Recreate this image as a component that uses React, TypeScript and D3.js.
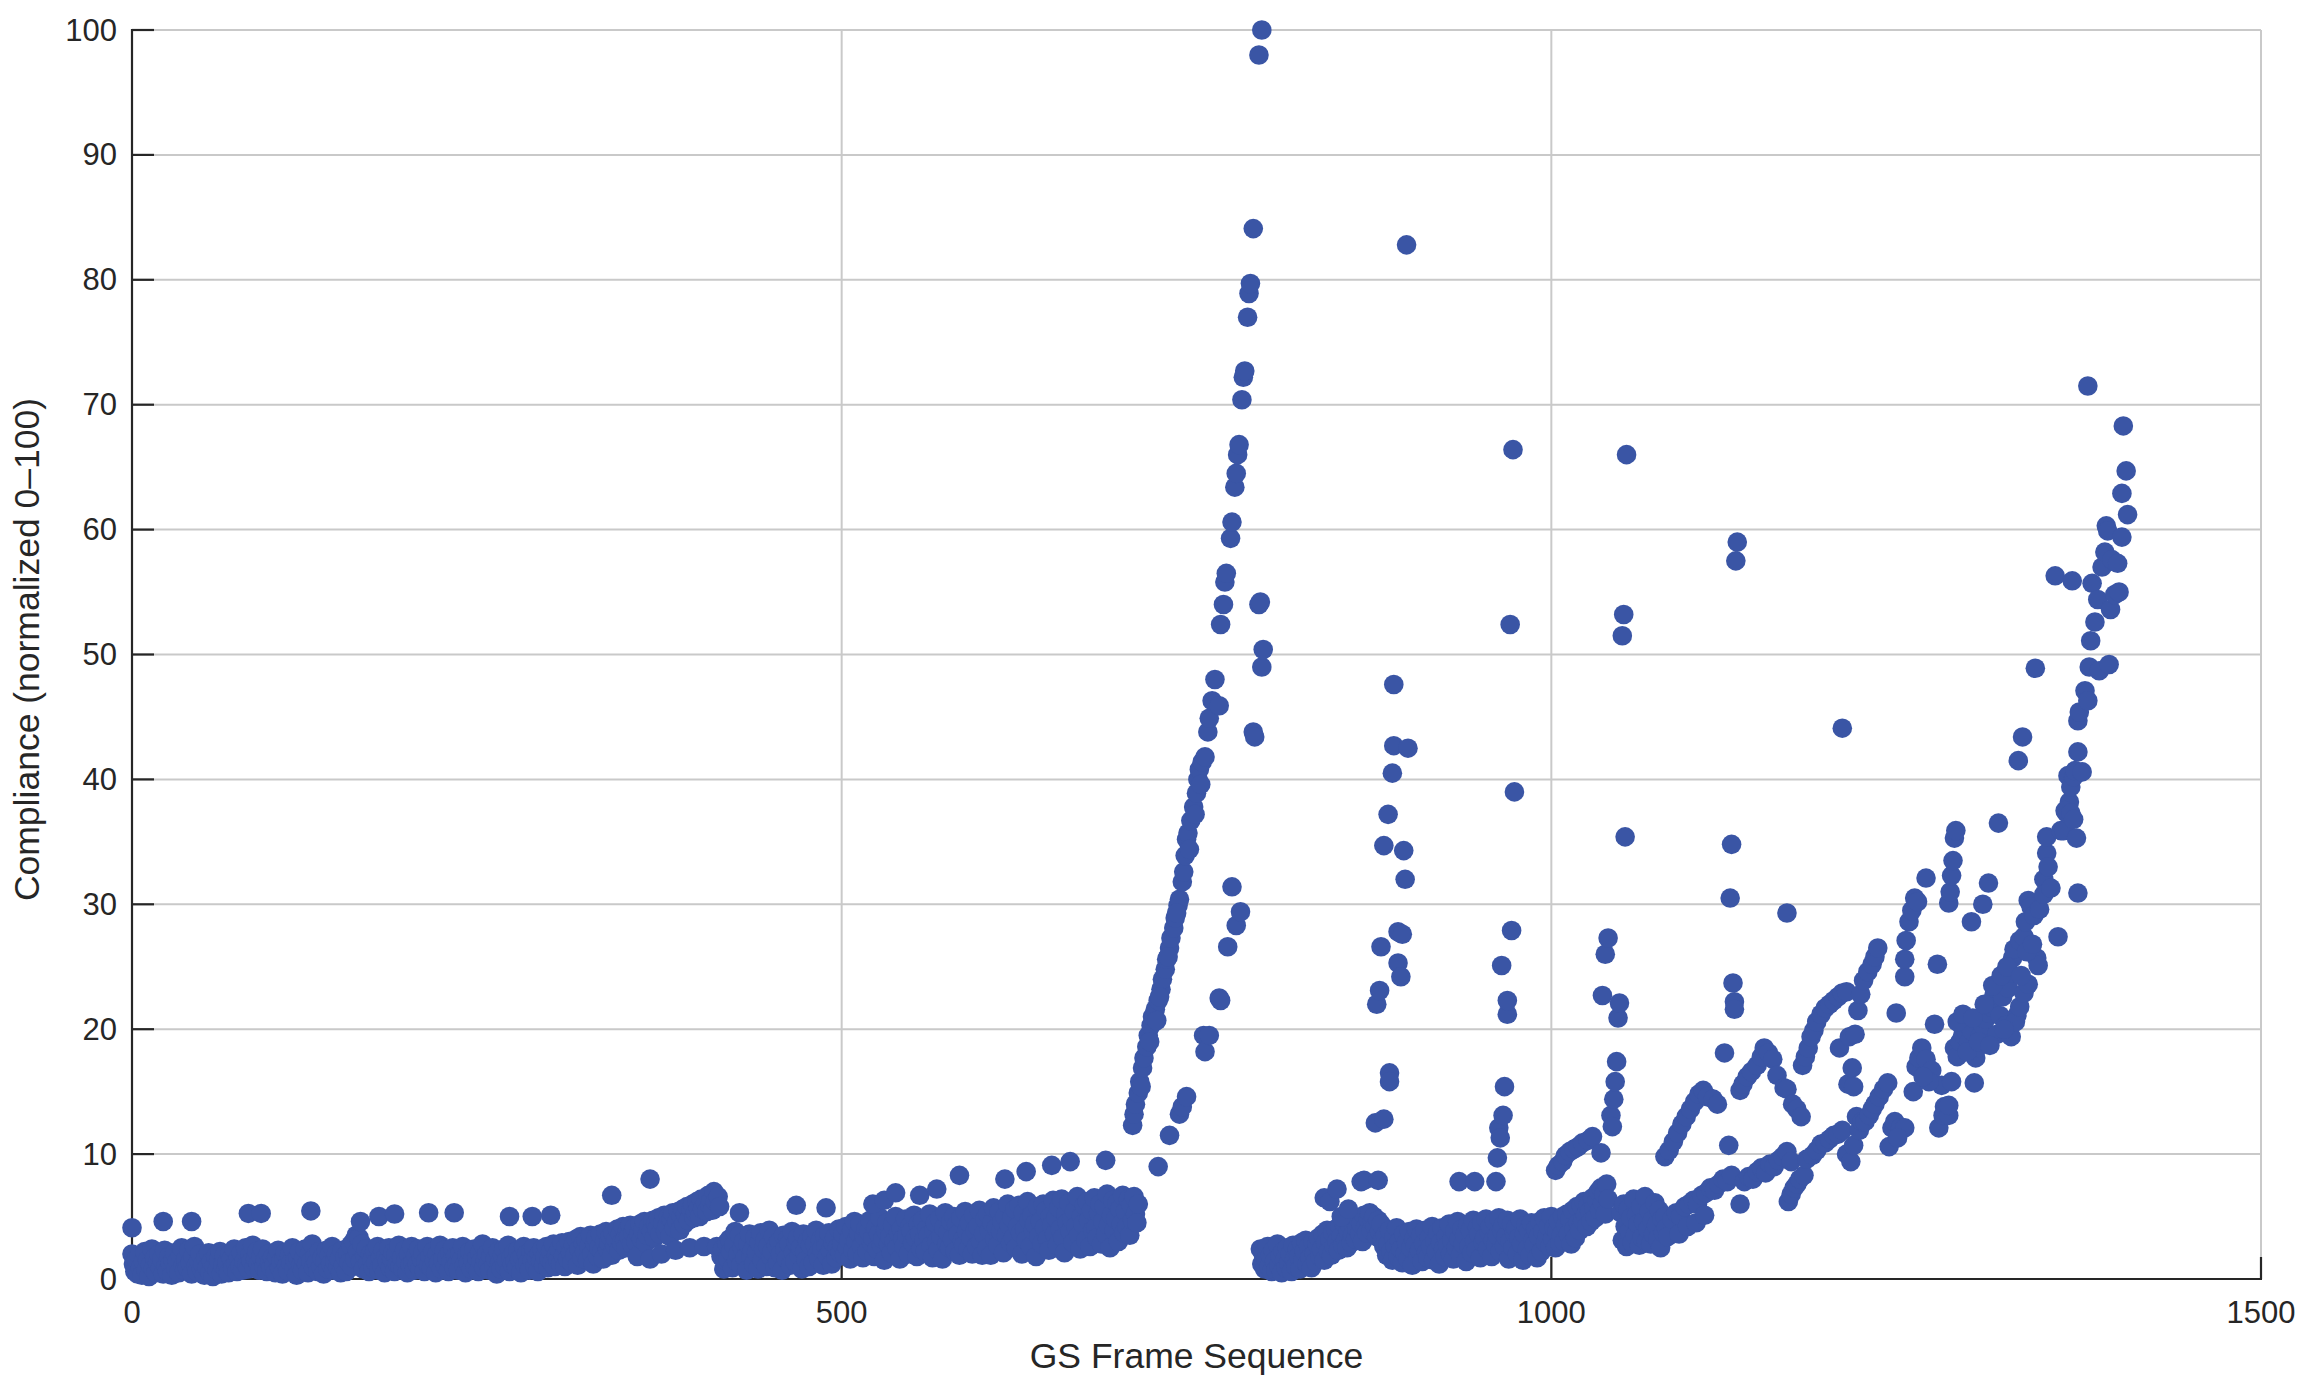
import React from "react";
import * as d3 from "d3";

const xTicks = [0, 500, 1000, 1500];
const yTicks = [0, 10, 20, 30, 40, 50, 60, 70, 80, 90, 100];
const xLabel = "GS Frame Sequence";
const yLabel = "Compliance (normalized 0–100)";

// Dense low band, one value per frame, frames 0..709
const bandAStart = 0;
const bandAValues = [
  2.0, 1.2, 0.6, 1.6, 0.4, 1.9, 0.9, 0.3, 1.4, 2.2,
  0.7, 1.5, 0.2, 1.1, 2.4, 0.8, 1.7, 0.5, 1.3, 2.0,
  0.9, 1.6, 0.4, 2.3, 1.0, 0.6, 1.8, 1.2, 0.3, 1.5,
  2.1, 0.8, 1.4, 0.5, 1.9, 2.5, 1.1, 0.7, 1.6, 0.9,
  2.3, 1.3, 0.4, 1.8, 2.6, 1.0, 0.6, 1.5, 2.0, 0.8,
  1.2, 0.3, 1.7, 0.9, 2.1, 0.5, 1.4, 0.2, 1.0, 1.8,
  0.7, 1.5, 2.2, 0.4, 1.1, 1.9, 0.8, 1.3, 0.5, 2.0,
  1.6, 0.9, 2.4, 1.2, 0.6, 1.7, 1.0, 2.1, 0.7, 1.4,
  2.5, 1.1, 0.8, 1.9, 1.4, 2.7, 0.9, 1.6, 2.2, 1.2,
  0.7, 1.8, 2.4, 1.0, 1.5, 0.6, 2.0, 1.3, 0.9, 1.7,
  1.1, 0.5, 1.8, 2.3, 0.9, 1.4, 0.4, 1.6, 2.1, 1.0,
  0.6, 1.9, 1.3, 2.5, 0.8, 1.5, 0.3, 1.7, 2.2, 1.1,
  0.7, 1.6, 2.4, 1.2, 0.5, 2.0, 1.4, 2.8, 0.9, 1.8,
  1.3, 0.6, 2.2, 1.0, 1.7, 0.4, 1.5, 2.3, 0.8, 1.9,
  1.2, 2.6, 0.7, 1.4, 2.0, 0.9, 1.6, 0.5, 2.3, 1.1,
  1.8, 0.6, 2.1, 1.3, 2.7, 1.0, 3.0, 1.6, 3.5, 2.2,
  3.3, 1.4, 2.8, 0.8, 1.9, 2.4, 1.2, 0.6, 2.0, 1.5,
  0.9, 2.2, 1.3, 2.6, 0.7, 1.7, 1.1, 2.3, 0.5, 1.8,
  1.4, 2.5, 0.9, 1.6, 2.1, 0.6, 1.9, 1.2, 2.7, 1.0,
  1.7, 0.8, 2.3, 1.4, 0.5, 2.0, 1.1, 2.6, 1.3, 0.7,
  1.9, 1.2, 2.4, 0.8, 1.6, 2.1, 0.6, 1.4, 2.6, 1.1,
  1.8, 0.9, 2.2, 1.5, 0.5, 2.0, 1.3, 2.7, 0.8, 1.6,
  2.3, 1.0, 1.7, 0.6, 2.1, 1.4, 2.5, 0.9, 1.8, 1.2,
  0.7, 2.0, 1.5, 2.6, 1.1, 0.5, 1.9, 1.3, 2.2, 0.8,
  1.6, 2.4, 1.0, 1.7, 0.6, 2.1, 1.4, 2.8, 0.9, 1.5,
  2.0, 1.2, 0.7, 1.8, 2.5, 1.1, 1.6, 0.4, 2.2, 1.3,
  0.8, 1.9, 2.4, 1.0, 1.5, 2.7, 0.6, 1.7, 1.2, 2.1,
  1.4, 0.9, 2.3, 1.6, 0.5, 1.8, 2.6, 1.1, 2.0, 1.3,
  0.7, 2.2, 1.5, 2.5, 1.0, 1.7, 0.6, 2.0, 1.4, 2.4,
  1.1, 1.8, 2.6, 0.9, 1.6, 2.2, 1.3, 2.8, 1.0, 1.9,
  1.5, 2.4, 1.2, 2.9, 1.8, 1.0, 2.6, 1.6, 3.0, 2.1,
  1.3, 2.7, 1.9, 3.2, 1.1, 2.4, 3.4, 1.7, 2.8, 2.2,
  3.1, 1.5, 2.6, 3.5, 2.0, 1.2, 2.9, 3.3, 1.8, 2.5,
  3.6, 2.2, 1.6, 3.0, 3.8, 2.4, 2.9, 3.4, 1.9, 3.7,
  2.7, 3.2, 4.0, 2.3, 3.6, 2.9, 4.2, 3.1, 2.5, 3.9,
  3.4, 4.3, 2.8, 3.7, 4.1, 3.0, 1.8, 3.6, 4.4, 3.2,
  3.9, 4.6, 2.9, 3.5, 4.2, 1.6, 3.8, 4.7, 3.3, 4.4,
  4.0, 4.9, 3.6, 2.0, 4.5, 5.1, 3.8, 4.3, 5.0, 3.4,
  4.8, 5.3, 4.1, 2.3, 4.6, 5.4, 3.9, 5.0, 5.6, 4.4,
  5.2, 5.8, 4.7, 2.5, 5.5, 6.0, 4.9, 5.3, 6.2, 5.7,
  5.0, 6.4, 5.6, 2.6, 6.1, 5.4, 6.7, 5.9, 6.3, 5.5,
  7.0, 6.2, 2.6, 6.6, 5.8, 1.8, 2.4, 0.8, 1.5, 2.9,
  1.6, 3.2, 2.2, 0.9, 2.7, 3.8, 1.4, 2.0, 3.5, 1.1,
  2.5, 3.0, 1.7, 0.7, 2.8, 3.6, 1.9, 2.3, 1.2, 3.3,
  2.1, 0.8, 2.9, 3.7, 1.5, 2.4, 3.1, 1.0, 2.6, 3.9,
  1.8, 2.2, 3.4, 0.9, 2.7, 1.3, 3.0, 2.0, 0.7, 3.5,
  2.4, 1.6, 3.2, 2.8, 1.1, 3.8, 2.1, 1.4, 2.9, 3.3,
  1.9, 2.5, 0.8, 3.6, 2.2, 1.5, 3.0, 1.0, 2.7, 3.4,
  1.3, 2.8, 3.9, 2.0, 1.6, 3.1, 2.4, 1.1, 3.5, 2.6,
  1.8, 3.7, 2.3, 1.2, 2.9, 3.3, 1.7, 2.5, 4.0, 2.1,
  2.8, 3.6, 1.9, 4.2, 2.5, 3.1, 1.6, 3.9, 2.3, 4.6,
  3.0, 2.0, 3.7, 4.4, 2.6, 1.7, 3.4, 4.0, 2.2, 3.8,
  4.7, 2.9, 3.3, 1.8, 4.1, 2.4, 3.6, 4.9, 2.7, 3.2,
  1.5, 3.9, 4.5, 2.8, 3.4, 2.1, 4.3, 3.0, 5.0, 2.5,
  3.7, 1.6, 4.0, 3.2, 2.6, 4.8, 3.5, 2.0, 4.2, 3.8,
  2.9, 5.1, 3.3, 1.8, 4.4, 3.6, 2.4, 4.7, 3.1, 2.2,
  4.0, 3.5, 5.2, 2.7, 1.7, 3.9, 4.5, 3.0, 2.3, 4.8,
  3.4, 1.6, 4.1, 5.3, 2.8, 3.7, 2.5, 4.6, 3.2, 5.0,
  2.2, 4.3, 3.6, 1.9, 4.9, 3.1, 2.7, 5.4, 3.8, 2.4,
  4.5, 3.3, 2.0, 5.1, 3.9, 2.6, 4.2, 5.5, 3.0, 1.9,
  3.6, 4.8, 2.4, 5.2, 3.9, 1.9, 4.5, 5.7, 3.2, 4.1,
  2.7, 5.4, 3.8, 4.6, 2.1, 5.0, 3.5, 6.0, 4.3, 2.9,
  4.9, 3.3, 5.6, 2.5, 4.2, 5.9, 3.7, 2.0, 5.3, 4.0,
  3.1, 6.2, 4.7, 2.6, 5.1, 3.9, 4.4, 1.8, 5.8, 3.4,
  4.6, 2.8, 6.0, 4.1, 5.5, 3.2, 2.3, 5.0, 4.3, 6.3,
  3.6, 4.9, 2.7, 5.7, 4.0, 6.4, 3.3, 2.1, 5.2, 4.5,
  6.1, 3.8, 4.8, 2.9, 5.4, 4.2, 6.6, 3.5, 2.4, 5.0,
  4.4, 5.9, 3.1, 6.2, 4.7, 2.6, 5.5, 3.9, 6.5, 4.1,
  3.3, 5.3, 6.0, 2.8, 4.6, 5.8, 3.6, 6.8, 4.3, 2.5,
  5.1, 6.3, 3.9, 4.8, 6.1, 3.0, 5.6, 4.4, 6.7, 3.7,
  5.4, 4.2, 6.4, 3.5, 5.9, 4.7, 6.6, 5.2, 4.5, 6.0,
];

// Low band after the main peak, one value per frame, frames 795..1000
const bandDStart = 795;
const bandDValues = [
  2.4, 1.2, 2.0, 0.8, 1.6, 2.6, 1.0, 1.9, 0.6, 2.3,
  1.4, 0.7, 2.8, 1.1, 1.8, 0.5, 2.2, 1.5, 0.9, 2.5,
  1.3, 2.0, 0.6, 2.7, 1.6, 1.0, 2.4, 1.8, 0.8, 2.9,
  1.5, 2.2, 3.1, 1.2, 2.6, 1.7, 0.9, 3.0, 2.0, 1.4,
  2.8, 3.3, 1.8, 2.4, 3.6, 1.5, 2.9, 3.9, 2.2, 3.2,
  1.9, 3.7, 2.6, 4.0, 3.0, 2.3, 4.2, 3.4, 2.7, 4.5,
  3.1, 2.5, 3.8, 4.3, 2.9, 3.5, 4.7, 3.2, 4.0, 4.9,
  3.6, 4.4, 3.0, 5.1, 4.1, 3.7, 4.8, 5.3, 3.9, 4.6,
  5.0, 4.2, 3.4, 4.7, 3.8, 4.4, 3.1, 2.6, 3.5, 1.9,
  2.8, 3.9, 2.2, 1.5, 3.3, 2.6, 4.1, 1.8, 3.0, 2.4,
  1.3, 3.6, 2.0, 2.9, 1.6, 3.8, 2.5, 1.1, 3.2, 2.7,
  4.0, 1.9, 2.3, 3.5, 1.4, 2.8, 3.9, 2.1, 1.7, 3.3,
  2.6, 4.2, 1.5, 3.0, 2.2, 3.7, 1.2, 2.9, 4.1, 2.4,
  1.8, 3.4, 2.7, 4.4, 2.0, 3.1, 1.6, 3.8, 2.5, 4.6,
  3.2, 1.9, 4.0, 2.8, 3.5, 1.4, 4.3, 2.6, 3.9, 2.1,
  4.7, 3.0, 2.3, 4.1, 3.6, 1.7, 4.5, 2.9, 3.3, 4.8,
  2.4, 3.8, 4.2, 1.8, 3.1, 4.6, 2.7, 3.5, 4.9, 2.2,
  3.9, 4.3, 2.6, 3.4, 4.7, 1.6, 3.0, 4.4, 2.5, 3.7,
  4.1, 2.0, 3.3, 4.8, 2.8, 1.5, 3.6, 4.3, 2.4, 3.9,
  1.9, 4.5, 3.1, 2.7, 4.0, 1.7, 3.4, 4.6, 2.2, 3.8,
  4.9, 2.9, 3.5, 4.2, 2.6, 5.0,
];

// Rising low band 1001..1040
const bandE0Start = 1001;
const bandE0Values = [
  3.2, 4.1, 2.5, 3.8, 4.6, 2.9, 3.5, 5.0, 3.0, 4.3,
  5.2, 3.6, 4.8, 2.8, 5.5, 4.0, 3.3, 5.8, 4.5, 3.9,
  5.9, 4.7, 6.2, 5.1, 4.2, 6.0, 5.4, 4.6, 6.5, 5.7,
  4.9, 6.3, 7.0, 5.5, 7.3, 6.1, 6.8, 5.2, 7.6, 6.4,
];

// Low cluster 1049..1082
const bandE2Start = 1049;
const bandE2Values = [
  5.3, 3.1, 6.0, 4.2, 2.6, 5.6, 3.8, 4.9, 2.9, 6.4,
  3.5, 5.1, 4.4, 2.7, 5.8, 3.3, 4.6, 6.6, 3.0, 4.0,
  5.4, 2.8, 4.7, 3.6, 6.1, 4.3, 3.2, 5.5, 2.5, 4.8,
  3.7, 5.0, 4.1, 3.4,
];

// Scattered upper points in the low region [frame, value]
const lowOutliers: [number, number][] = [
  [0, 4.1], [22, 4.6], [42, 4.6], [82, 5.25], [91, 5.25], [126, 5.45],
  [161, 4.6], [174, 5.0], [185, 5.2], [209, 5.3], [227, 5.3], [266, 5.0],
  [282, 5.0], [295, 5.1], [338, 6.7], [365, 8.0], [428, 5.3], [468, 5.9],
  [489, 5.7], [522, 6.0], [530, 6.3], [538, 6.9], [555, 6.7], [567, 7.2],
  [583, 8.3], [615, 8.0], [630, 8.6], [648, 9.1], [661, 9.4], [686, 9.5],
];

// Steep rise to the maximum
const riseMain: [number, number][] = [
  [705, 12.3], [706, 13.2], [707, 14.0], [709, 14.9], [710, 15.8], [712, 16.9],
  [713, 17.7], [715, 18.6], [716, 19.5], [718, 20.3], [719, 21.0], [721, 21.6],
  [722, 20.7], [723, 22.3], [725, 23.2], [726, 24.0], [728, 24.8], [729, 25.6],
  [731, 26.5], [732, 27.3], [734, 28.1], [735, 28.9], [737, 29.9], [738, 30.4],
  [740, 31.8], [741, 32.6], [742, 33.9], [743, 35.2], [744, 35.7], [746, 36.7],
  [748, 37.8], [750, 38.9], [751, 40.0], [752, 40.8], [754, 41.4], [756, 41.8],
  [758, 43.8], [759, 44.9], [761, 46.3], [763, 48.0], [766, 45.9], [767, 52.4],
  [769, 54.0], [770, 55.8], [771, 56.5], [774, 59.3], [775, 60.6], [777, 63.4],
  [778, 64.5], [779, 66.0], [780, 66.8], [782, 70.4], [783, 72.2], [784, 72.7],
  [786, 77.0], [787, 78.9], [788, 79.7], [790, 84.1], [794, 98.0], [796, 100.0],
];
const riseSecond: [number, number][] = [
  [711, 15.4], [717, 19.0], [724, 22.6], [730, 25.8], [736, 29.3], [745, 34.4],
  [749, 37.2], [753, 39.6],
];
const riseTrail: [number, number][] = [
  [723, 9.0], [731, 11.5], [738, 13.2], [740, 13.8], [743, 14.6], [755, 19.5],
  [756, 18.2], [759, 19.5], [766, 22.5], [767, 22.3], [772, 26.6], [775, 31.4],
  [778, 28.3], [781, 29.4], [790, 43.8], [791, 43.4], [794, 54.0], [795, 54.2],
  [796, 49.0], [797, 50.4],
];

// Region after the peak
const upperD: [number, number][] = [
  [840, 6.5], [844, 6.2], [849, 7.2], [852, 5.0], [857, 5.6], [866, 7.8],
  [868, 7.9], [878, 7.9], [935, 7.8], [946, 7.8],
];
const spikeD1: [number, number][] = [
  [876, 12.5], [877, 22.0], [879, 23.1], [880, 26.6], [882, 12.8], [882, 34.7],
  [885, 37.2], [886, 16.5], [886, 15.8], [888, 40.5], [889, 42.7], [889, 47.6],
  [892, 27.8], [892, 25.3], [894, 24.2], [895, 27.6], [896, 34.3], [897, 32.0],
  [898, 82.8], [899, 42.5],
];
const spikeD2: [number, number][] = [
  [961, 7.8], [962, 9.7], [963, 12.1], [964, 11.3], [965, 25.1], [966, 13.1],
  [967, 15.4], [969, 21.2], [969, 22.3], [971, 52.4], [972, 27.9], [973, 66.4],
  [974, 39.0],
];

// Region 1000..1210
const seriesE1: [number, number][] = [
  [1003, 8.7], [1005, 9.1], [1008, 9.4], [1010, 9.9], [1013, 10.2], [1016, 10.4],
  [1019, 10.6], [1022, 10.9], [1026, 11.1], [1029, 11.4], [1035, 10.1],
];
const spikeE1: [number, number][] = [
  [1036, 22.7], [1038, 26.0], [1040, 27.3], [1042, 13.1], [1043, 12.2], [1044, 14.4],
  [1045, 15.8], [1046, 17.4], [1047, 20.9], [1048, 22.1], [1050, 51.5], [1051, 53.2],
  [1052, 35.4], [1053, 66.0],
];
const seriesE3: [number, number][] = [
  [1080, 9.8], [1083, 10.3], [1086, 11.0], [1089, 11.7], [1092, 12.4], [1095, 13.0],
  [1098, 13.6], [1101, 14.2], [1104, 14.8], [1107, 15.1], [1110, 14.6], [1114, 14.4],
  [1117, 14.0],
];
const seriesE4: [number, number][] = [
  [1085, 4.8], [1088, 5.3], [1091, 5.0], [1094, 5.8], [1097, 6.0], [1100, 6.3],
  [1103, 6.0], [1106, 6.7], [1109, 6.9], [1112, 7.3], [1115, 7.1], [1118, 7.6],
  [1121, 8.0], [1124, 7.8], [1127, 8.3], [1090, 3.6], [1096, 4.2], [1102, 4.5],
  [1108, 5.1],
];
const spikeE2: [number, number][] = [
  [1122, 18.1], [1125, 10.7], [1126, 30.5], [1127, 34.8], [1128, 23.7], [1129, 22.2],
  [1129, 21.6], [1130, 57.5], [1131, 59.0], [1133, 6.0],
];
const seriesE6: [number, number][] = [
  [1133, 15.1], [1135, 15.6], [1138, 16.2], [1141, 16.6], [1145, 17.1], [1148, 17.8],
  [1150, 18.5], [1153, 18.1], [1156, 17.6], [1159, 16.3],
];
const seriesE7: [number, number][] = [
  [1136, 7.8], [1139, 8.2], [1142, 8.0], [1145, 8.6], [1148, 8.9], [1151, 8.5],
  [1154, 9.2], [1157, 9.0], [1160, 9.5], [1163, 9.8], [1166, 10.2], [1169, 9.4],
  [1167, 6.2], [1169, 6.8], [1171, 7.3], [1173, 7.6], [1175, 8.0], [1178, 8.3],
];
const seriesE8: [number, number][] = [
  [1164, 15.3], [1166, 15.2], [1166, 29.3], [1170, 14.0], [1173, 13.6], [1176, 13.0],
];
const seriesE9: [number, number][] = [
  [1177, 17.1], [1179, 17.8], [1181, 18.5], [1183, 19.4], [1185, 19.9], [1187, 20.6],
  [1190, 21.2], [1193, 21.7], [1196, 22.0], [1199, 22.3], [1202, 22.6], [1205, 22.9],
  [1208, 23.0],
];
const seriesE10: [number, number][] = [
  [1180, 9.6], [1184, 9.9], [1187, 10.3], [1190, 10.8], [1193, 10.9], [1196, 11.2],
  [1199, 11.5], [1202, 11.6], [1205, 11.9], [1208, 10.0], [1211, 9.4], [1213, 10.7],
  [1203, 18.5], [1205, 44.1], [1209, 15.6], [1210, 19.4], [1212, 16.9],
];

// Final region 1210..1406
const seriesF1: [number, number][] = [
  [1214, 19.6], [1216, 21.5], [1218, 22.8], [1220, 23.9], [1223, 24.6], [1226, 25.2],
  [1228, 25.8], [1230, 26.5],
];
const seriesF2: [number, number][] = [
  [1213, 15.4], [1215, 13.0], [1217, 11.9], [1219, 12.6], [1221, 12.6], [1224, 13.1],
  [1226, 13.6], [1228, 14.0], [1231, 14.6], [1234, 15.2], [1237, 15.7], [1240, 12.1],
  [1238, 10.6], [1242, 12.6], [1246, 12.1], [1249, 12.1], [1244, 11.3],
];
const seriesF3: [number, number][] = [
  [1243, 21.3], [1249, 24.2], [1249, 25.6], [1250, 27.1], [1252, 28.6], [1254, 29.5],
  [1256, 30.5], [1258, 30.2], [1264, 32.1],
];
const seriesF4: [number, number][] = [
  [1255, 15.0], [1257, 17.0], [1259, 17.7], [1261, 18.5], [1264, 17.6], [1268, 16.7],
  [1270, 20.4], [1272, 25.2], [1275, 15.5], [1277, 13.8], [1273, 12.1], [1276, 13.1],
  [1280, 13.1], [1266, 15.8], [1262, 16.2],
];
const seriesF5: [number, number][] = [
  [1280, 30.1], [1281, 31.0], [1282, 32.3], [1284, 35.3], [1285, 35.9], [1283, 33.5],
];
const seriesF6: [number, number][] = [
  [1280, 13.9], [1282, 15.8], [1284, 18.5], [1286, 17.8], [1288, 19.0], [1290, 19.6],
  [1292, 19.9], [1294, 18.9], [1296, 19.9], [1296, 28.6], [1298, 15.7], [1299, 17.7],
  [1300, 18.5], [1302, 19.4], [1304, 30.0], [1304, 20.3], [1306, 20.8], [1308, 31.7],
  [1308, 21.3], [1310, 21.8], [1312, 22.8], [1314, 19.6], [1315, 36.5], [1316, 21.1],
  [1318, 22.6], [1320, 23.7], [1322, 23.3], [1323, 24.5], [1325, 25.7], [1326, 26.4],
  [1328, 21.1], [1329, 41.5], [1330, 27.1], [1332, 43.4], [1333, 27.4], [1334, 28.6],
  [1336, 30.3], [1338, 29.8], [1340, 29.1], [1341, 48.9], [1342, 25.7], [1343, 25.1],
  [1344, 29.6], [1347, 32.0], [1347, 30.8], [1349, 34.1], [1350, 33.0], [1349, 35.4],
  [1352, 31.3], [1355, 56.3], [1357, 27.4], [1359, 35.9], [1361, 35.9], [1363, 37.3],
  [1364, 40.3], [1365, 38.2], [1366, 39.4], [1367, 55.9], [1368, 40.2], [1369, 40.7],
  [1370, 35.3], [1371, 30.9], [1371, 42.2], [1371, 44.7], [1372, 45.4], [1374, 40.6],
  [1376, 47.1], [1378, 46.3], [1378, 71.5], [1379, 49.0], [1380, 51.1], [1381, 55.7],
  [1383, 52.6], [1385, 54.4], [1386, 48.7], [1388, 57.0], [1390, 58.2], [1391, 60.3],
  [1392, 59.9], [1393, 49.2], [1394, 53.6], [1395, 57.6], [1397, 54.8], [1399, 57.3],
  [1400, 55.0], [1402, 62.9], [1402, 59.4], [1403, 68.3], [1405, 64.7], [1406, 61.2],
  [1320, 20.3], [1324, 19.4], [1327, 20.6], [1330, 21.8], [1333, 22.9], [1336, 23.6],
  [1362, 37.5], [1366, 37.3], [1368, 36.8],
];
const seriesF7: [number, number][] = [
  [1286, 20.6], [1290, 21.2], [1293, 18.2], [1297, 20.9], [1301, 19.0], [1305, 22.0],
  [1309, 18.7], [1311, 23.5], [1317, 24.3], [1319, 20.0], [1321, 25.0], [1331, 24.3],
  [1335, 26.2], [1339, 26.8],
];

const W = 2311;
const H = 1389;
const M = { left: 132, right: 2261, top: 30, bottom: 1279 };
const DOT = "#3a55a5";
const AXIS = "#262626";
const GRID = "#c9c9c9";
const FONT = "'Liberation Sans', Arial, sans-serif";

function fromBand(start: number, values: number[]): [number, number][] {
  return values.map((v, i) => [start + i, v] as [number, number]);
}

export default function App() {
  const x = d3.scaleLinear().domain([0, 1500]).range([M.left, M.right]);
  const y = d3.scaleLinear().domain([0, 100]).range([M.bottom, M.top]);

  const points: [number, number][] = [
    ...fromBand(bandAStart, bandAValues),
    ...lowOutliers,
    ...riseMain,
    ...riseSecond,
    ...riseTrail,
    ...fromBand(bandDStart, bandDValues),
    ...upperD,
    ...spikeD1,
    ...spikeD2,
    ...fromBand(bandE0Start, bandE0Values),
    ...fromBand(bandE2Start, bandE2Values),
    ...seriesE1,
    ...spikeE1,
    ...seriesE3,
    ...seriesE4,
    ...spikeE2,
    ...seriesE6,
    ...seriesE7,
    ...seriesE8,
    ...seriesE9,
    ...seriesE10,
    ...seriesF1,
    ...seriesF2,
    ...seriesF3,
    ...seriesF4,
    ...seriesF5,
    ...seriesF6,
    ...seriesF7,
  ];

  const tickLen = 22;

  return (
    <svg
      width={W}
      height={H}
      style={{ position: "absolute", left: 0, top: 0, background: "#fff" }}
      fontFamily={FONT}
    >
      <rect x={0} y={0} width={W} height={H} fill="#fff" />
      {yTicks.filter((t) => t > 0).map((t) => (
        <line key={"gy" + t} x1={M.left} x2={M.right} y1={y(t)} y2={y(t)} stroke={GRID} strokeWidth={2} />
      ))}
      {xTicks.filter((t) => t > 0).map((t) => (
        <line key={"gx" + t} x1={x(t)} x2={x(t)} y1={M.top} y2={M.bottom} stroke={GRID} strokeWidth={2} />
      ))}
      <line x1={M.left} x2={M.left} y1={M.top - 1} y2={M.bottom + 1} stroke={AXIS} strokeWidth={2.2} />
      <line x1={M.left - 1} x2={M.right + 1} y1={M.bottom} y2={M.bottom} stroke={AXIS} strokeWidth={2.2} />
      {yTicks.map((t) => (
        <line key={"ty" + t} x1={M.left} x2={M.left + tickLen} y1={y(t)} y2={y(t)} stroke={AXIS} strokeWidth={2.2} />
      ))}
      {xTicks.map((t) => (
        <line key={"tx" + t} x1={x(t)} x2={x(t)} y1={M.bottom} y2={M.bottom - tickLen} stroke={AXIS} strokeWidth={2.2} />
      ))}
      {yTicks.map((t) => (
        <text key={"ly" + t} x={M.left - 15} y={y(t)} textAnchor="end" dominantBaseline="central" fontSize={31} fill={AXIS}>
          {t}
        </text>
      ))}
      {xTicks.map((t) => (
        <text key={"lx" + t} x={x(t)} y={M.bottom + 44} textAnchor="middle" fontSize={31} fill={AXIS}>
          {t}
        </text>
      ))}
      <text x={(M.left + M.right) / 2} y={1368} textAnchor="middle" fontSize={35.5} fill={AXIS}>
        {xLabel}
      </text>
      <text
        transform={`translate(39, ${(M.top + M.bottom) / 2 - 5}) rotate(-90)`}
        textAnchor="middle"
        fontSize={35.5}
        fill={AXIS}
      >
        {yLabel}
      </text>
      <g fill={DOT}>
        {points.map((p, i) => (
          <circle key={i} cx={x(p[0])} cy={y(p[1])} r={9.8} />
        ))}
      </g>
    </svg>
  );
}
